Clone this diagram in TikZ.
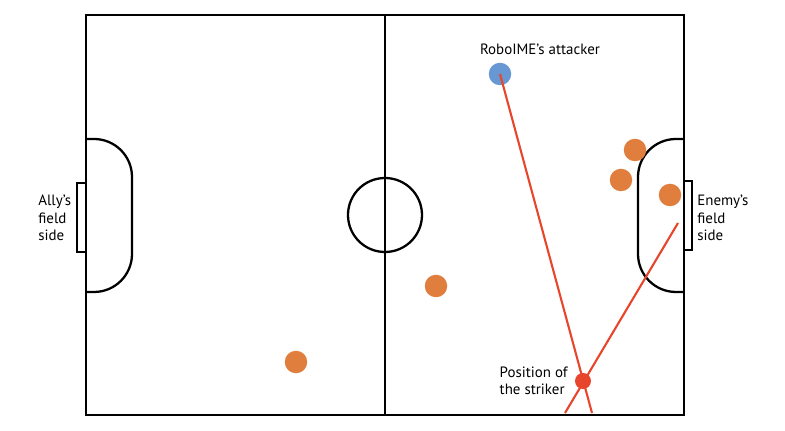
\documentclass[tikz,border=0pt]{standalone}
\usepackage{fontspec}
\setmainfont{PT Sans}
\usepackage{tikz}
\usetikzlibrary{positioning}
\definecolor{enemyorange}{RGB}{224,126,62}
\definecolor{allyblue}{RGB}{104,152,212}
\definecolor{shotred}{RGB}{232,70,44}
\tikzset{x=0.02cm, y=-0.02cm,
  fieldline/.style={line width=1.3pt, black},
  robot/.style={circle, inner sep=0pt, minimum size=0.45cm},
  shot/.style={line width=1.2pt, shotred},
  lbl/.style={font=\fontsize{8.5}{9.8}\selectfont, inner sep=0pt, align=left}}

\begin{document}
\begin{tikzpicture}

  \useasboundingbox (0,0) rectangle (785,431);

  % field
  \draw[fieldline] (86,15) rectangle (684,415);
  \draw[fieldline] (385,15) -- (385,415);
  \draw[fieldline] (385,215) circle (37);
  \draw[fieldline, rounded corners=0.76cm] (86,139) -- (132,139) -- (132,292) -- (86,292);
  \draw[fieldline, rounded corners=0.76cm] (684,139) -- (638,139) -- (638,292) -- (684,292);
  \draw[fieldline] (86,183) -- (77,183) -- (77,252) -- (86,252);
  \draw[fieldline] (684,181) -- (692,181) -- (692,250) -- (684,250);

  % robots
  \node[robot, fill=allyblue] (attacker) at (500,74) {};
  \node[robot, fill=enemyorange] (e1) at (635,150) {};
  \node[robot, fill=enemyorange] (e2) at (621,180) {};
  \node[robot, fill=enemyorange] (e3) at (670,195) {};
  \node[robot, fill=enemyorange] (e4) at (436,286) {};
  \node[robot, fill=enemyorange] (e5) at (296,362) {};
  \node[circle, inner sep=0pt, minimum size=0.32cm, fill=shotred] (striker) at (583,381) {};

  \coordinate (endA) at (592,413);
  \coordinate (startB) at (565,413);
  \coordinate (endB) at (678,223);

  \draw[shot] (attacker.center) -- (endA);
  \draw[shot] (startB) -- (endB);

  % labels
  \node[lbl, anchor=south] (attlbl) at (540,55) {RoboIME's attacker};
  \node[lbl, anchor=east] (strlbl) at (568,381) {Position of\\the striker};
  \node[lbl, anchor=west] (allylbl) at (38,218) {Ally's\\field\\side};
  \node[lbl, anchor=west] (enemylbl) at (697,218) {Enemy's\\field\\side};

\end{tikzpicture}
\end{document}
